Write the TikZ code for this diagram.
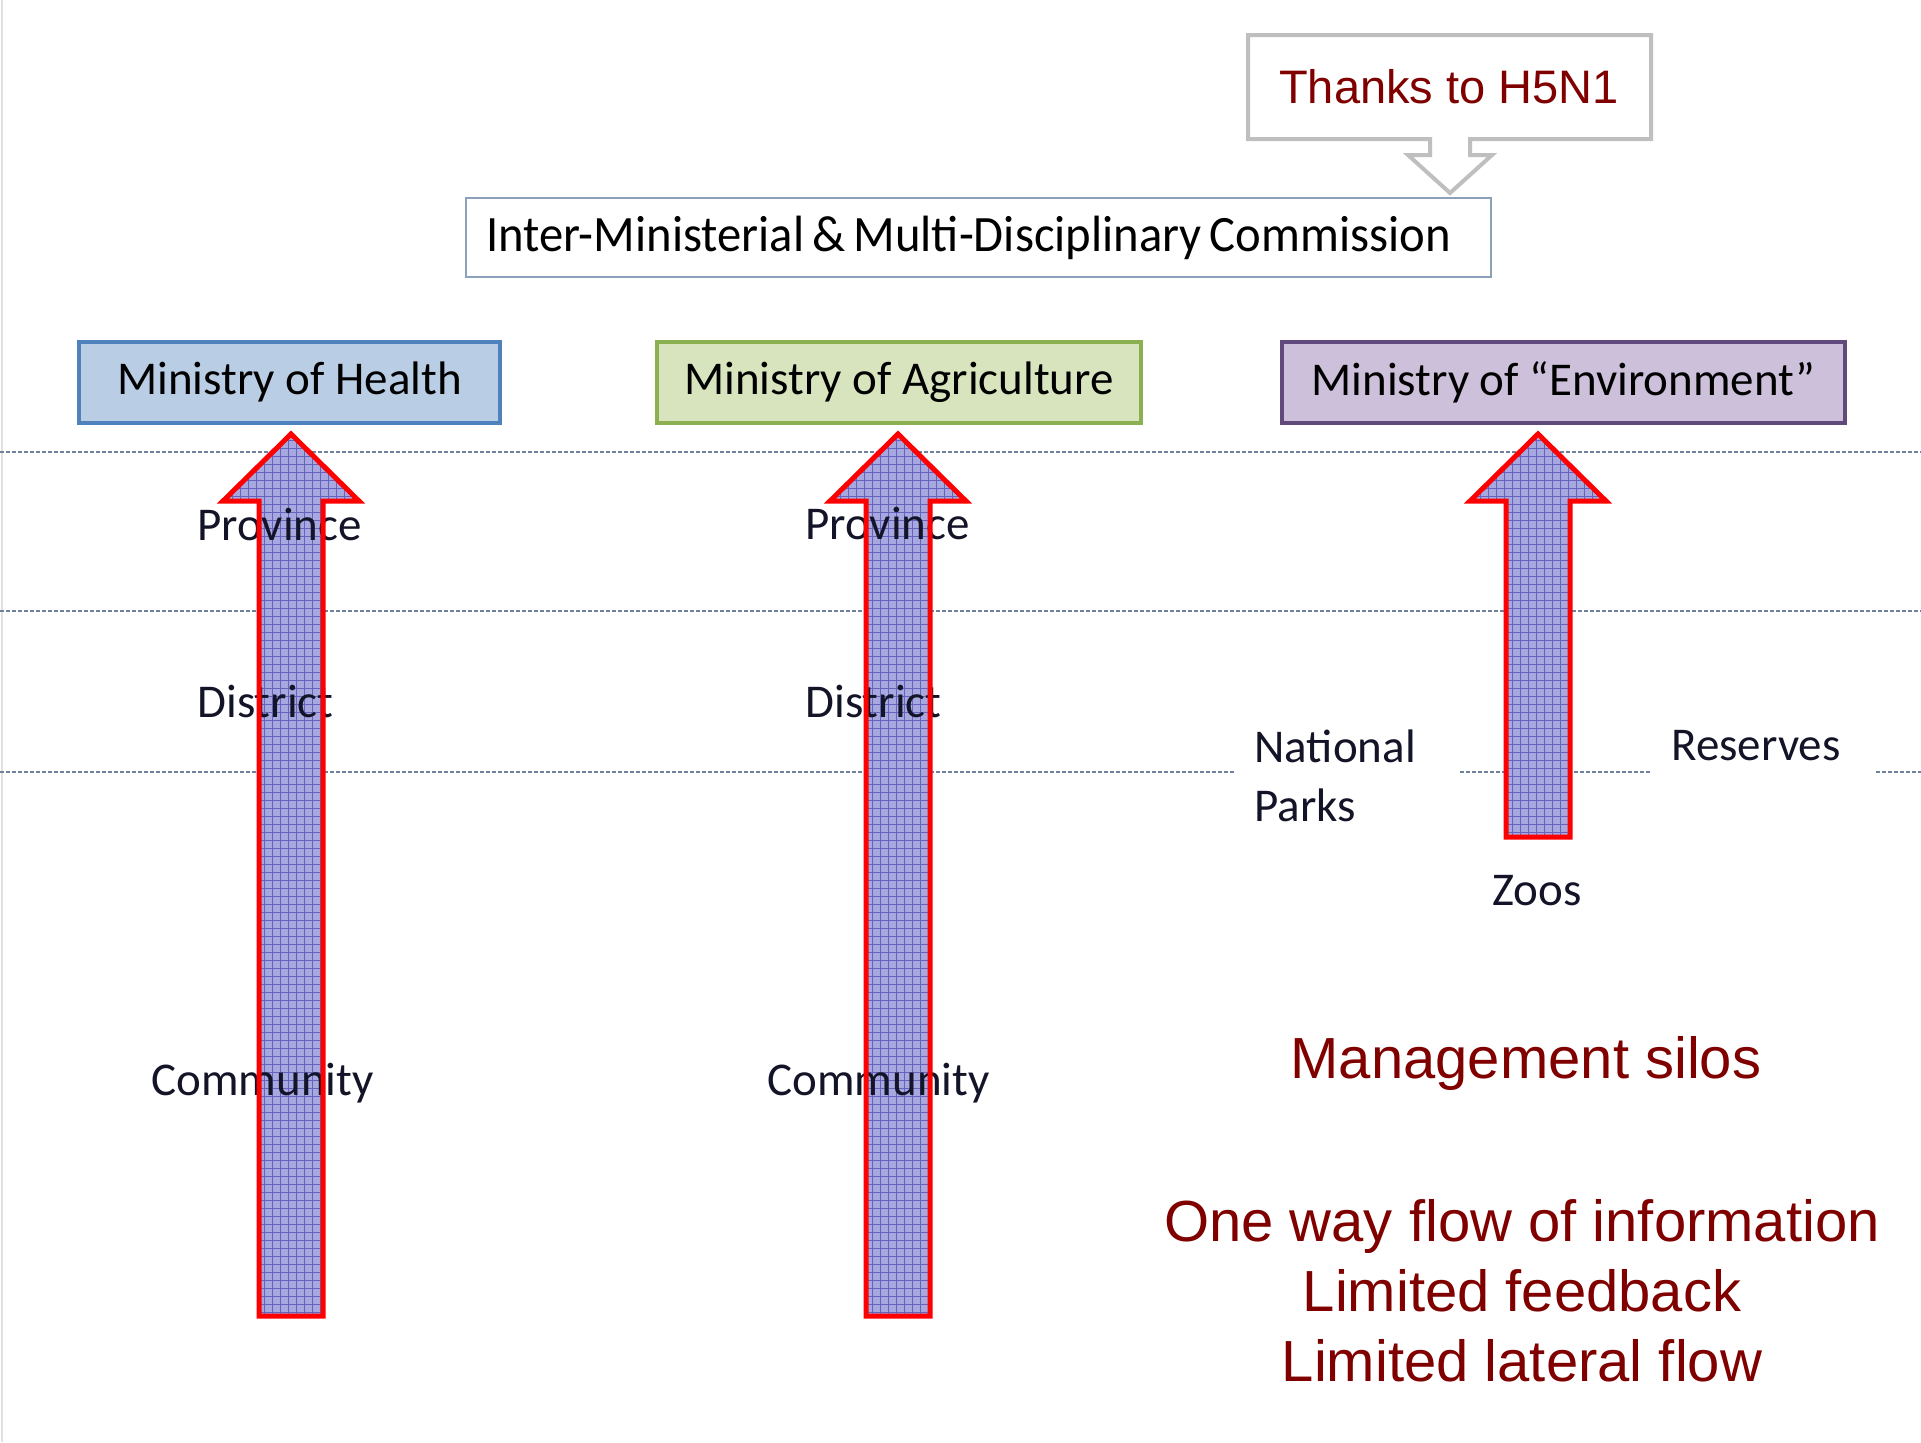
\documentclass[tikz,border=0pt]{standalone}
\usepackage{fontspec}
\setmainfont{Carlito}
\newfontfamily\arialf{Liberation Sans}
\usepackage{graphicx}
\definecolor{mred}{RGB}{128,0,0}
\definecolor{hfill}{RGB}{185,205,229}
\definecolor{hedge}{RGB}{79,129,189}
\definecolor{afill}{RGB}{215,228,189}
\definecolor{aedge}{RGB}{140,175,80}
\definecolor{efill}{RGB}{204,192,218}
\definecolor{eedge}{RGB}{96,74,123}
\definecolor{dashcol}{RGB}{110,130,160}
\definecolor{arrfill}{RGB}{168,168,224}
\definecolor{arrgrid}{RGB}{100,100,190}
\definecolor{calloutgray}{RGB}{191,191,191}
\definecolor{commedge}{RGB}{140,160,185}
\definecolor{lbltext}{RGB}{20,20,40}
\tikzset{
  ministry/.style={draw, line width=2pt, inner sep=0pt, minimum height=40.5pt,
     font=\fontsize{23.5}{28}\selectfont, text=black},
  lbl/.style={font=\fontsize{23.5}{29.5}\selectfont, text=lbltext, inner sep=0pt},
  redtxt/.style={font=\arialf\fontsize{29}{35}\selectfont, text=mred, align=center, inner sep=0pt},
  levelline/.style={draw=dashcol, line width=0.75pt, dash pattern=on 2pt off 1pt},
  siloedge/.style={draw=red, line width=2.5pt, line join=miter},
}
\newcommand\silopath[3]{(#1-32,#3) -- (#1-32,#2+67) -- (#1-68,#2+67) -- (#1,#2) -- (#1+68,#2+67) -- (#1+32,#2+67) -- (#1+32,#3) -- cycle}
\newcommand\silofill[3]{%
  \fill[arrfill] \silopath{#1}{#2}{#3};
  \begin{scope}
    \clip \silopath{#1}{#2}{#3};
    \draw[arrgrid, line width=0.45pt, xstep=4pt, ystep=4pt] (#1-80,#2-10) grid (#1+80,#3+10);
  \end{scope}
}
\newcommand\siloedge[3]{\draw[siloedge] \silopath{#1}{#2}{#3};}
\begin{document}
\begin{tikzpicture}[x=0.5pt,y=-0.5pt]
\useasboundingbox (0,0) rectangle (1921,1442);
\fill[white] (0,0) rectangle (1921,1442);
\draw[black!12, line width=1pt] (1.5,0) -- (1.5,1442);

% level lines
\draw[levelline] (0,452) -- (1921,452);
\draw[levelline] (0,611) -- (1921,611);
\draw[levelline] (0,772) -- (1234,772);
\draw[levelline] (1460,772) -- (1650,772);
\draw[levelline] (1876,772) -- (1921,772);

% callout
\node[font=\arialf\fontsize{23.5}{28}\selectfont, text=mred, inner sep=0pt] (thanks) at (1449,87) {Thanks to H5N1};
\draw[calloutgray, line width=2pt, line join=miter]
  (1248,35) -- (1651,35) -- (1651,139) -- (1470,139) -- (1470,155) -- (1492,155)
  -- (1450,193) -- (1408,155) -- (1430,155) -- (1430,139) -- (1248,139) -- cycle;

% commission
\node[draw=commedge, line width=1pt, minimum width=512.5pt, minimum height=39.5pt, inner sep=0pt,
      font=\fontsize{25.5}{30}\selectfont] (comm) at (978.5,237.5)
  {\scalebox{0.954}[1]{Inter-Ministerial\,\&\,Multi-Disciplinary\,Commission}\hspace*{10pt}};

% ministries
\node[ministry, fill=hfill, draw=hedge, minimum width=210.5pt] (moh) at (289.5,382) {Ministry of Health};
\node[ministry, fill=afill, draw=aedge, minimum width=242pt] (moa) at (899,382) {Ministry of Agriculture};
\node[ministry, fill=efill, draw=eedge, minimum width=281.5pt] (moe) at (1563.5,382) {Ministry of “Environment”};

% silo arrow bodies
\silofill{291}{434}{1316}
\silofill{898}{434}{1316}
\silofill{1538}{434}{837}

% level labels
\node[lbl, anchor=west] (hprov) at (197,524) {Province};
\node[lbl, anchor=west] (hdist) at (197,701) {District};
\node[lbl, anchor=west] (hcomm) at (151,1083) {Community};
\node[lbl, anchor=west] (aprov) at (805,523) {Province};
\node[lbl, anchor=west] (adist) at (805,701) {District};
\node[lbl, anchor=west] (acomm) at (767,1083) {Community};
\node[lbl, anchor=west, align=left] (parks) at (1254,775.5) {National\\Parks};
\node[lbl, anchor=west] (reserves) at (1671,746) {Reserves};
\node[lbl] (zoos) at (1537,891) {Zoos};

% silo arrow outlines
\siloedge{291}{434}{1316}
\siloedge{898}{434}{1316}
\siloedge{1538}{434}{837}

% red messages
\node[redtxt] (silos) at (1526,1063) {Management silos};
\node[redtxt] (flow) at (1522,1291) {One way flow of information\\Limited feedback\\Limited lateral flow};
\end{tikzpicture}
\end{document}
